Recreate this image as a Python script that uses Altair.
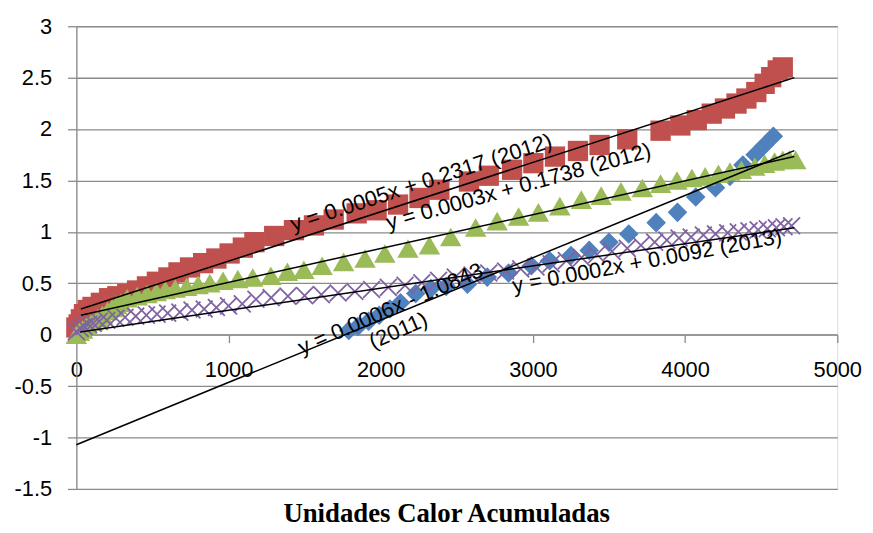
import altair as alt
import pandas as pd

# ---------------- data ----------------
red_x = [0, 15, 30, 50, 75, 106, 161, 215, 269, 334, 399, 464, 529, 605, 671, 747, 833, 920, 1007, 1094,
         1170, 1300, 1430, 1561, 1691, 1842, 1973, 2114, 2255, 2385, 2580, 2710, 2863, 3003, 3145, 3296,
         3438, 3620, 3839, 3969, 4077, 4175, 4262, 4338, 4403, 4468, 4523, 4566, 4609, 4642]
red_y = [0.07, 0.10, 0.15, 0.20, 0.24, 0.27, 0.31, 0.355, 0.374, 0.396, 0.43, 0.47, 0.515, 0.557, 0.606,
         0.654, 0.696, 0.741, 0.79, 0.847, 0.90, 0.96, 1.017, 1.063, 1.12, 1.18, 1.21, 1.266, 1.33, 1.41,
         1.49, 1.546, 1.604, 1.668, 1.732, 1.787, 1.845, 1.90, 1.984, 2.035, 2.087, 2.15, 2.2, 2.248, 2.297,
         2.36, 2.44, 2.505, 2.57, 2.6]

green_x = [0, 20, 41, 70, 106, 140, 171, 205, 236, 265, 291, 334, 400, 464, 525, 584, 650, 725, 800, 877,
           964, 1061, 1159, 1278, 1387, 1495, 1615, 1756, 1897, 2027, 2179, 2320, 2460, 2624, 2765, 2906,
           3036, 3177, 3318, 3449, 3579, 3719, 3839, 3947, 4045, 4132, 4219, 4295, 4370, 4458, 4523, 4588,
           4642, 4686, 4727]
green_y = [0.0, 0.03, 0.05, 0.09, 0.13, 0.16, 0.19, 0.23, 0.26, 0.29, 0.31, 0.355, 0.375, 0.396, 0.415,
           0.435, 0.45, 0.467, 0.485, 0.502, 0.525, 0.541, 0.557, 0.573, 0.612, 0.631, 0.67, 0.708, 0.741,
           0.79, 0.838, 0.87, 0.95, 1.043, 1.105, 1.15, 1.19, 1.25, 1.314, 1.353, 1.394, 1.427, 1.469, 1.5,
           1.524, 1.54, 1.565, 1.587, 1.604, 1.636, 1.662, 1.684, 1.70, 1.707, 1.70]

blue_x = [1790, 1850, 1920, 1990, 2060, 2130, 2230, 2330, 2430, 2570, 2700, 2840, 2990, 3110, 3250, 3370,
          3500, 3630, 3810, 3950, 4070, 4200, 4295, 4380, 4460, 4520, 4580]
blue_y = [0.04, 0.08, 0.13, 0.19, 0.25, 0.31, 0.40, 0.45, 0.47, 0.49, 0.56, 0.60, 0.67, 0.72, 0.77, 0.82,
          0.90, 0.98, 1.09, 1.19, 1.34, 1.43, 1.54, 1.65, 1.75, 1.84, 1.93]

purple_x = [0, 25, 50, 80, 110, 150, 200, 260, 320, 390, 460, 530, 600, 680, 760, 840, 920, 1000, 1090,
            1180, 1280, 1390, 1500, 1610, 1720, 1830, 1940, 2050, 2160, 2270, 2380, 2490, 2600, 2710, 2820,
            2920, 3020, 3120, 3220, 3320, 3420, 3520, 3620, 3710, 3800, 3880, 3960, 4040, 4120, 4200, 4280,
            4350, 4420, 4480, 4540, 4600, 4650, 4700]
purple_y = [0.03, 0.06, 0.08, 0.10, 0.11, 0.13, 0.14, 0.16, 0.17, 0.18, 0.19, 0.20, 0.21, 0.22, 0.24,
            0.25, 0.265, 0.28, 0.30, 0.345, 0.36, 0.375, 0.38, 0.39, 0.405, 0.42, 0.44, 0.46, 0.48, 0.505,
            0.53, 0.56, 0.58, 0.60, 0.62, 0.64, 0.66, 0.69, 0.72, 0.75, 0.78, 0.81, 0.84, 0.87, 0.90, 0.92,
            0.94, 0.95, 0.97, 0.98, 0.99, 1.00, 1.01, 1.02, 1.03, 1.04, 1.05, 1.06]

# trend lines (end points)
trend_x0 = [0, 30, 30, 25]
trend_y0 = [-1.07, 0.25, 0.19, 0.026]
trend_x1 = [4718, 4718, 4718, 4718]
trend_y1 = [1.79, 2.50, 1.733, 1.04]

# trend-line equations (anchor in data units)
label_text = ["y = 0.0005x + 0.2317 (2012)", "y = 0.0003x + 0.1738 (2012)",
              "y = 0.0006x - 1.0843", "(2011)", "y = 0.0002x + 0.0092 (2013)"]
label_x = [2266, 2905, 2064, 2116, 3750]
label_y = [1.478, 1.44, 0.25, 0.039, 0.715]
label_angle = [342, 344.5, 336.5, 336.5, 349.5]

x_ticks = [0, 1000, 2000, 3000, 4000, 5000]
y_ticks = [-1.5, -1, -0.5, 0, 0.5, 1, 1.5, 2, 2.5, 3]

# ---------------- styling ----------------
GRAY = "#8a8a8a"
RED = "#C0504D"
GREEN = "#9BBB59"
BLUE = "#4F81BD"
PURPLE = "#8064A2"
W, H = 768, 467
Y0_OFFSET = -(H * 1.5 / 4.5)

x_scale = alt.Scale(domain=[0, 5000], nice=False, zero=False)
y_scale = alt.Scale(domain=[-1.5, 3], nice=False, zero=False)

x_axis = alt.Axis(values=x_ticks, format="d", title=None, grid=False, offset=Y0_OFFSET,
                  tickSize=8, tickColor=GRAY, tickWidth=1.3, domainColor=GRAY, domainWidth=1.3,
                  labelFont="Liberation Sans", labelFontSize=22, labelColor="black",
                  labelPadding=17, labelFlush=False, labelOverlap=False)
y_axis = alt.Axis(values=y_ticks, labelExpr="datum.value + ''", title=None, grid=True,
                  gridColor=GRAY, gridWidth=1.3, tickSize=9, tickColor=GRAY, tickWidth=1.3,
                  domainColor=GRAY, domainWidth=1.3, labelFont="Liberation Sans", labelFontSize=22,
                  labelColor="black", labelPadding=16, labelFlush=False, labelOverlap=False)


def enc(ch):
    return ch.encode(x=alt.X("x:Q", scale=x_scale, axis=x_axis),
                     y=alt.Y("y:Q", scale=y_scale, axis=y_axis))


def df(xs, ys):
    return pd.DataFrame({"x": xs, "y": ys})


blue = enc(alt.Chart(df(blue_x, blue_y)).mark_point(
    shape="diamond", filled=True, size=390, color=BLUE, opacity=1, strokeWidth=0))
red = enc(alt.Chart(df(red_x, red_y)).mark_point(
    shape="square", filled=True, size=420, color=RED, opacity=1, strokeWidth=0))
green = enc(alt.Chart(df(green_x, green_y)).mark_point(
    shape="triangle-up", filled=True, size=470, color=GREEN, opacity=1, strokeWidth=0))
purple = enc(alt.Chart(df(purple_x, purple_y)).mark_point(
    shape="M-1,-1L1,1M-1,1L1,-1", filled=False, size=290, color=PURPLE,
    opacity=1, strokeWidth=1.8))

trend_df = pd.DataFrame({"x": trend_x0, "y": trend_y0, "x1": trend_x1, "y1": trend_y1})
trends = alt.Chart(trend_df).mark_rule(color="black", strokeWidth=1.5).encode(
    x=alt.X("x:Q", scale=x_scale, axis=x_axis),
    y=alt.Y("y:Q", scale=y_scale, axis=y_axis),
    x2="x1:Q", y2="y1:Q")

texts = []
for t, lx, ly, a in zip(label_text, label_x, label_y, label_angle):
    texts.append(alt.Chart(pd.DataFrame({"x": [lx], "y": [ly], "t": [t]})).mark_text(
        angle=a, font="Liberation Sans", fontSize=22, align="center", baseline="middle",
        color="black").encode(
        x=alt.X("x:Q", scale=x_scale, axis=x_axis),
        y=alt.Y("y:Q", scale=y_scale, axis=y_axis),
        text="t:N"))

chart = alt.layer(blue, red, green, purple, trends, *texts).properties(
    width=W, height=H,
    autosize="none",
    padding={"left": 69, "top": 16, "right": 28, "bottom": 34},
    title=alt.TitleParams("Unidades Calor Acumuladas", orient="bottom", font="Liberation Serif",
                          fontSize=27, fontWeight="bold", color="black", offset=1, dx=9,
                          frame="bounds"),
).configure_view(stroke=None).configure(background="white")

chart.save("out.html", embed_options={"renderer": "svg", "actions": False})
